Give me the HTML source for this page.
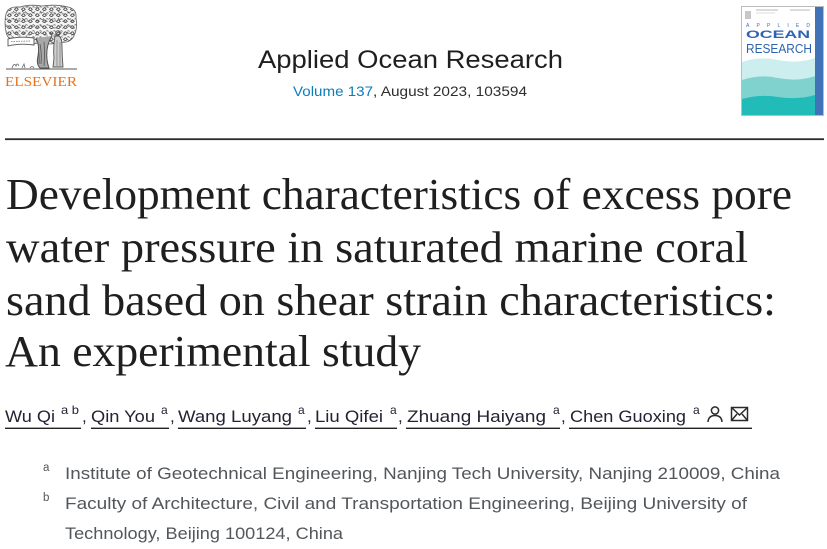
<!DOCTYPE html>
<html>
<head>
<meta charset="utf-8">
<style>
  html,body{margin:0;padding:0;background:#fff;}
  body{width:827px;height:549px;overflow:hidden;}
  svg{display:block;}
</style>
</head>
<body>
<svg width="827" height="549" viewBox="0 0 827 549" xmlns="http://www.w3.org/2000/svg">
  <defs>
    <pattern id="leaf" width="7" height="6" patternUnits="userSpaceOnUse">
      <path d="M0.6 3.5 q1.8 -3.4 3.6 0 q-1.8 2 -3.6 0 z" fill="none" stroke="#4a4a4a" stroke-width="0.9"/>
      <path d="M4.5 1.2 q1 -1 2 0.3" fill="none" stroke="#555" stroke-width="0.8"/>
    </pattern>
    <pattern id="leaf2" x="3" y="2" width="9" height="7" patternUnits="userSpaceOnUse">
      <path d="M1 2 q2 2.5 4 0.5 M5.5 5.5 q1.5 -1.5 3 0" fill="none" stroke="#606060" stroke-width="0.7"/>
    </pattern>
  </defs>
  <rect width="827" height="549" fill="#fff"/>

  <!-- Elsevier logo -->
  <g>
    <path d="M6 14 Q8 6 20 7 Q30 4 42 6 Q56 4 68 7 Q77 9 76 18 Q78 28 74 36 Q70 44 58 42 Q50 46 42 42 Q30 46 20 42 Q8 42 6 32 Q4 22 6 14 Z" fill="#f4f4f4"/>
    <path d="M6 14 Q8 6 20 7 Q30 4 42 6 Q56 4 68 7 Q77 9 76 18 Q78 28 74 36 Q70 44 58 42 Q50 46 42 42 Q30 46 20 42 Q8 42 6 32 Q4 22 6 14 Z" fill="url(#leaf)" stroke="#666" stroke-width="0.8"/>
    <path d="M6 14 Q8 6 20 7 Q30 4 42 6 Q56 4 68 7 Q77 9 76 18 Q78 28 74 36 Q70 44 58 42 Q50 46 42 42 Q30 46 20 42 Q8 42 6 32 Q4 22 6 14 Z" fill="url(#leaf2)"/>
    <!-- scroll banner -->
    <path d="M8 39 Q20 36 34 38 L34 45 Q20 43 8 46 Z" fill="#fff" stroke="#555" stroke-width="0.9"/>
    <path d="M11 41.5 L31 41" stroke="#777" stroke-width="0.8" stroke-dasharray="1.5 1"/>
    <!-- trunk -->
    <path d="M36 38 Q40 46 38 56 Q36 64 40 68 L49 68 Q46 60 47 50 Q48 42 52 36" fill="#a8a8a8" stroke="#555" stroke-width="1"/>
    <path d="M40 44 Q42 54 41 64 M44 42 Q45 54 44 66 M38.5 50 Q39.5 58 39 64" stroke="#555" stroke-width="0.8" fill="none"/>
    <!-- figure -->
    <circle cx="58" cy="33" r="2.3" fill="none" stroke="#555" stroke-width="0.9"/>
    <path d="M55 36 Q53 48 54 58 L53 67 L63 67 Q62 56 62 46 Q62 38 59 36 Z" fill="#cfcfcf" stroke="#555" stroke-width="0.9"/>
    <path d="M57 40 L57 66 M60 42 L60 66" stroke="#666" stroke-width="0.6"/>
    <path d="M49 40 L54 44 M50 32 L52 36" stroke="#555" stroke-width="1"/>
    <!-- ground -->
    <path d="M6 69 L77 69" stroke="#555" stroke-width="1"/>
    <path d="M12 68 q2 -6 4 -2 q1 -4 3 0 M22 68 l2 -4 l1 4 M30 68 q2 -3 4 0" stroke="#666" stroke-width="0.8" fill="none"/>
    <text x="5" y="86" font-family="'Liberation Serif', serif" font-size="13.5" fill="#e9711c" textLength="72" lengthAdjust="spacingAndGlyphs">ELSEVIER</text>
  </g>

  <!-- Journal header -->
  <text x="258" y="68" font-family="'Liberation Sans', sans-serif" font-size="25" fill="#1f1f1f" textLength="305" lengthAdjust="spacingAndGlyphs">Applied Ocean Research</text>
  <text x="293" y="96" font-family="'Liberation Sans', sans-serif" font-size="14" fill="#0c7dbb" textLength="80" lengthAdjust="spacingAndGlyphs">Volume 137</text>
  <text x="373" y="96" font-family="'Liberation Sans', sans-serif" font-size="14" fill="#2e2e2e" textLength="154" lengthAdjust="spacingAndGlyphs">, August 2023, 103594</text>

  <!-- Cover -->
  <g>
    <rect x="741.5" y="6.5" width="82" height="109" fill="#fff" stroke="#bdbdbd" stroke-width="1"/>
    <rect x="815" y="7" width="8" height="108" fill="#4172b8"/>
    <rect x="745" y="11" width="6" height="8" fill="#c8c8c8"/>
    <path d="M756 10 L778 10 M790 10 L810 10" stroke="#b8b8b8" stroke-width="1"/>
    <path d="M756 13 L775 13" stroke="#d0d0d0" stroke-width="0.8"/>
    <text x="746" y="27" font-family="'Liberation Sans', sans-serif" font-size="5" fill="#3a6fb8" textLength="64" lengthAdjust="spacing">APPLIED</text>
    <text x="746" y="38" font-family="'Liberation Sans', sans-serif" font-size="11" font-weight="bold" fill="#2d63b0" textLength="64" lengthAdjust="spacingAndGlyphs">OCEAN</text>
    <text x="746" y="53" font-family="'Liberation Sans', sans-serif" font-size="13" fill="#2d63b0" textLength="66" lengthAdjust="spacingAndGlyphs">RESEARCH</text>
    <path d="M742 62 Q760 56 778 60 Q798 64 815 58 L815 115 L742 115 Z" fill="#cdeeee"/>
    <path d="M742 80 Q760 74 778 78 Q798 82 815 76 L815 115 L742 115 Z" fill="#80d2cf"/>
    <path d="M742 99 Q760 94 778 97 Q798 100 815 95 L815 115 L742 115 Z" fill="#22bcb8"/>
  </g>

  <!-- Rule -->
  <rect x="5" y="138.3" width="819" height="1.8" fill="#2a2a2a"/>

  <!-- Title -->
  <g font-family="'Liberation Serif', serif" font-size="44" fill="#1f1f1f">
    <text x="6" y="209" textLength="786" lengthAdjust="spacingAndGlyphs">Development characteristics of excess pore</text>
    <text x="6" y="262" textLength="742" lengthAdjust="spacingAndGlyphs">water pressure in saturated marine coral</text>
    <text x="6" y="315" textLength="770" lengthAdjust="spacingAndGlyphs">sand based on shear strain characteristics:</text>
    <text x="5" y="366" textLength="416" lengthAdjust="spacingAndGlyphs">An experimental study</text>
  </g>

  <!-- Authors -->
  <g font-family="'Liberation Sans', sans-serif" fill="#232334">
    <text x="5" y="422" font-size="17" textLength="50" lengthAdjust="spacingAndGlyphs">Wu Qi</text>
    <text x="61" y="414" font-size="12" textLength="18" lengthAdjust="spacingAndGlyphs">a b</text>
    <text x="82" y="422" font-size="17">,</text>

    <text x="91" y="422" font-size="17" textLength="64" lengthAdjust="spacingAndGlyphs">Qin You</text>
    <text x="161" y="414" font-size="12">a</text>
    <text x="170" y="422" font-size="17">,</text>

    <text x="178" y="422" font-size="17" textLength="114" lengthAdjust="spacingAndGlyphs">Wang Luyang</text>
    <text x="298" y="414" font-size="12">a</text>
    <text x="307" y="422" font-size="17">,</text>

    <text x="315" y="422" font-size="17" textLength="68" lengthAdjust="spacingAndGlyphs">Liu Qifei</text>
    <text x="390" y="414" font-size="12">a</text>
    <text x="398" y="422" font-size="17">,</text>

    <text x="407" y="422" font-size="17" textLength="139" lengthAdjust="spacingAndGlyphs">Zhuang Haiyang</text>
    <text x="553" y="414" font-size="12">a</text>
    <text x="561" y="422" font-size="17">,</text>

    <text x="570" y="422" font-size="17" textLength="116" lengthAdjust="spacingAndGlyphs">Chen Guoxing</text>
    <text x="693" y="414" font-size="12">a</text>
  </g>
  <!-- underlines -->
  <g fill="#232323">
    <rect x="5" y="427.6" width="76" height="1.4"/>
    <rect x="91" y="427.6" width="78" height="1.4"/>
    <rect x="178" y="427.6" width="128" height="1.4"/>
    <rect x="315" y="427.6" width="82" height="1.4"/>
    <rect x="406" y="427.6" width="154" height="1.4"/>
    <rect x="569" y="427.6" width="183" height="1.4"/>
  </g>
  <!-- icons -->
  <g fill="none" stroke="#2a2a2a" stroke-width="1.5">
    <circle cx="715" cy="410.5" r="3.6"/>
    <path d="M708 422 Q708.5 415.5 715 415.5 Q721.5 415.5 722 422"/>
    <rect x="731.5" y="407.5" width="16" height="13"/>
    <path d="M731.5 407.5 L739.5 415 L747.5 407.5 M731.5 420.5 L737 414 M747.5 420.5 L742 414"/>
  </g>

  <!-- Affiliations -->
  <g font-family="'Liberation Sans', sans-serif" fill="#53565a">
    <text x="43" y="471" font-size="11.5">a</text>
    <text x="65" y="479" font-size="16.5" textLength="715" lengthAdjust="spacingAndGlyphs">Institute of Geotechnical Engineering, Nanjing Tech University, Nanjing 210009, China</text>
    <text x="43" y="501" font-size="11.5">b</text>
    <text x="65" y="509" font-size="16.5" textLength="682" lengthAdjust="spacingAndGlyphs">Faculty of Architecture, Civil and Transportation Engineering, Beijing University of</text>
    <text x="65" y="539" font-size="16.5" textLength="278" lengthAdjust="spacingAndGlyphs">Technology, Beijing 100124, China</text>
  </g>
</svg>
</body>
</html>
